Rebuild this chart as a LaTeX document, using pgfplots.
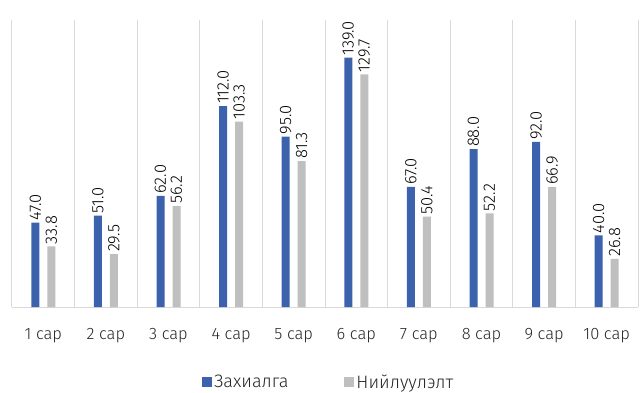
\documentclass[border=0pt]{standalone}
\usepackage{fontspec}
\setmainfont{Fira Sans Light}
\usepackage{pgfplots}
\pgfplotsset{compat=1.18}
\definecolor{cblue}{HTML}{3C62AE}
\definecolor{cgray}{HTML}{BFBFBF}
\definecolor{cgrid}{HTML}{D9D9D9}
\definecolor{ctext}{HTML}{262626}
\begin{document}
\begin{tikzpicture}[x=1pt,y=1pt]
\path[use as bounding box] (0,0) rectangle (641,392);
\begin{axis}[
  at={(12pt,85pt)}, anchor=south west,
  scale only axis, width=626pt, height=287pt,
  ymin=0, ymax=160,
  xmin=-0.5, xmax=9.5,
  ybar=8pt, bar width=8pt,
  axis y line=none,
  axis x line*=bottom,
  x axis line style={cgrid, line width=1pt},
  xtick={0,...,9},
  xticklabels={1 сар,2 сар,3 сар,4 сар,5 сар,6 сар,7 сар,8 сар,9 сар,10 сар},
  major tick length=0pt,
  minor xtick={-0.5,0.5,...,9.5},
  minor tick length=0pt,
  minor x grid style={cgrid, line width=1pt},
  xminorgrids=true,
  x tick label style={font=\fontsize{16.5}{19}\selectfont, text=ctext, yshift=-18pt},
  nodes near coords,
  nodes near coords style={rotate=90, anchor=west, font=\fontsize{16.5}{19}\selectfont, text=black, inner sep=2pt},
  /pgf/number format/.cd, fixed, fixed zerofill, precision=1, assume math mode=true,
  /pgfplots/.cd,
  legend style={at={(0.506,-0.228)}, anchor=north, draw=none, fill=none, legend columns=2, font=\fontsize{18}{20}\selectfont, text=ctext, inner sep=0pt,
    /tikz/every even column/.append style={column sep=54pt}},
  legend image code/.code={\fill[#1] (0pt,-5pt) rectangle (10pt,5pt);},
  clip=false,
]
\addplot[fill=cblue, draw=none] coordinates {(0,47.0) (1,51.0) (2,62.0) (3,112.0) (4,95.0) (5,139.0) (6,67.0) (7,88.0) (8,92.0) (9,40.0)};
\addplot[fill=cgray, draw=none] coordinates {(0,33.8) (1,29.5) (2,56.2) (3,103.3) (4,81.3) (5,129.7) (6,50.4) (7,52.2) (8,66.9) (9,26.8)};
\legend{Захиалга, Нийлуулэлт}
\end{axis}
\end{tikzpicture}
\end{document}
